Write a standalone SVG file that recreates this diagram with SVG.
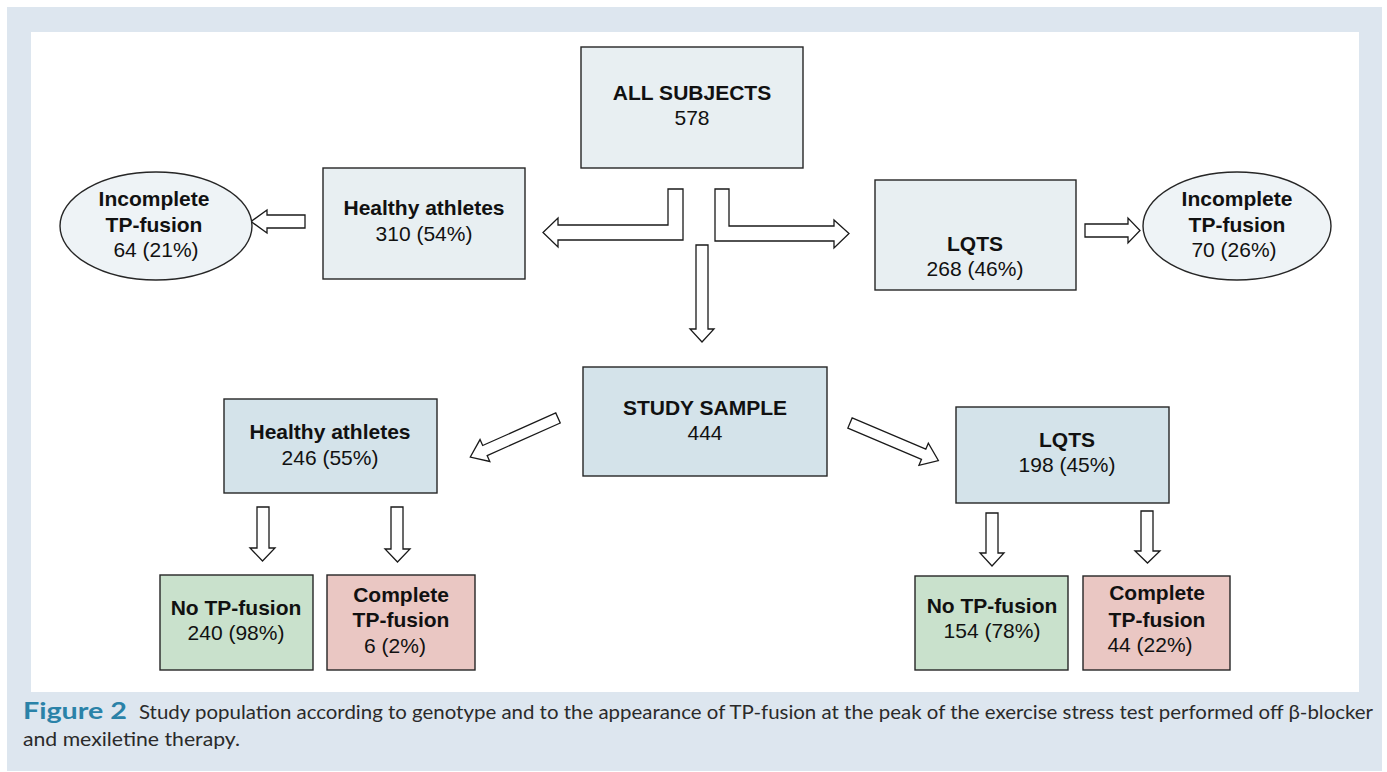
<svg xmlns="http://www.w3.org/2000/svg" width="1387" height="772" viewBox="0 0 1387 772">
<style>
.box{stroke:#262626;stroke-width:1.4}
.lt{fill:#e8eff2}
.md{fill:#d4e3ea}
.gr{fill:#c9e1cc}
.pk{fill:#eac7c3}
.el{fill:#eef3f6;stroke:#262626;stroke-width:1.4}
.arr{fill:#ffffff;stroke:#1a1a1a;stroke-width:1.3;stroke-linejoin:miter}
text{font-family:"Liberation Sans",Arial,sans-serif;font-size:21px;fill:#111;text-anchor:middle}
.b{font-weight:bold}
.cap{font-family:Lato,"Open Sans",sans-serif;font-size:20px;fill:#2a2a2a;text-anchor:start}
.fig{font-family:Lato,"Open Sans",sans-serif;font-weight:bold;fill:#2a82a8;font-size:23px;text-anchor:start}
</style>
<rect x="7" y="7" width="1375" height="764" fill="#dde6ef"/>
<rect x="31" y="32" width="1328" height="660" fill="#ffffff"/>

<g id="connectors">
<polygon class="arr" points="668,189 683,189 683,240 558,240 558,247 543,232.5 558,218 558,225 668,225"/>
<polygon class="arr" points="715,189 729,189 729,226 834,226 834,220 849,233.5 834,248 834,241 715,241"/>
<polygon class="arr" points="696,245 708,245 708,329 714,329 702,342 690,329 696,329"/>
<polygon class="arr" points="305,215 267,215 267,210 251,221.5 267,233 267,228 305,228"/>
<polygon class="arr" points="1085,224 1128,224 1128,218 1140,230.5 1128,243 1128,237 1085,237"/>
<polygon class="arr" transform="translate(558,418) rotate(156)" points="0,-5.5 80,-5.5 80,-12 96,0 80,12 80,5.5 0,5.5"/>
<polygon class="arr" transform="translate(850,423) rotate(23)" points="0,-5.5 80,-5.5 80,-12 96,0 80,12 80,5.5 0,5.5"/>
<polygon class="arr" points="257,507 269,507 269,548 275,548 262.5,561 250,548 257,548"/>
<polygon class="arr" points="391,507 403,507 403,549 410,549 397.5,562 385,549 391,549"/>
<polygon class="arr" points="986,513 998,513 998,553 1004,553 992,566 980,553 986,553"/>
<polygon class="arr" points="1141,511 1153,511 1153,551 1160,551 1147.5,563 1135,551 1141,551"/>
</g>

<g id="all-subjects">
<rect class="box lt" x="581" y="47" width="222" height="121"/>
<text class="b" x="692" y="100">ALL SUBJECTS</text>
<text x="692" y="125">578</text>
</g>
<g id="healthy-top">
<rect class="box lt" x="323" y="168" width="202" height="111"/>
<text class="b" x="424" y="215">Healthy athletes</text>
<text x="424" y="241">310 (54%)</text>
</g>
<g id="lqts-top">
<rect class="box lt" x="875" y="180" width="201" height="110"/>
<text class="b" x="975" y="251">LQTS</text>
<text x="975" y="276">268 (46%)</text>
</g>
<g id="incomplete-left">
<ellipse class="el" cx="156" cy="226" rx="96" ry="54"/>
<text class="b" x="154" y="206">Incomplete</text>
<text class="b" x="154" y="232">TP-fusion</text>
<text x="156" y="257">64 (21%)</text>
</g>
<g id="incomplete-right">
<ellipse class="el" cx="1237" cy="226" rx="94" ry="54"/>
<text class="b" x="1237" y="206">Incomplete</text>
<text class="b" x="1237" y="232">TP-fusion</text>
<text x="1234" y="257">70 (26%)</text>
</g>
<g id="study-sample">
<rect class="box md" x="583" y="367" width="244" height="109"/>
<text class="b" x="705" y="415">STUDY SAMPLE</text>
<text x="705" y="440">444</text>
</g>
<g id="healthy-bottom">
<rect class="box md" x="224" y="399" width="213" height="94"/>
<text class="b" x="330" y="439">Healthy athletes</text>
<text x="330" y="465">246 (55%)</text>
</g>
<g id="lqts-bottom">
<rect class="box md" x="956" y="407" width="213" height="96"/>
<text class="b" x="1067" y="447">LQTS</text>
<text x="1067" y="472">198 (45%)</text>
</g>
<g id="no-tp-left">
<rect class="box gr" x="160" y="575" width="153" height="95"/>
<text class="b" x="236" y="615">No TP-fusion</text>
<text x="236" y="640">240 (98%)</text>
</g>
<g id="complete-left">
<rect class="box pk" x="327" y="575" width="148" height="95"/>
<text class="b" x="401" y="602">Complete</text>
<text class="b" x="401" y="627">TP-fusion</text>
<text x="395" y="653">6 (2%)</text>
</g>
<g id="no-tp-right">
<rect class="box gr" x="915" y="576" width="153" height="94"/>
<text class="b" x="992" y="613">No TP-fusion</text>
<text x="992" y="638">154 (78%)</text>
</g>
<g id="complete-right">
<rect class="box pk" x="1083" y="576" width="147" height="94"/>
<text class="b" x="1157" y="600">Complete</text>
<text class="b" x="1157" y="627">TP-fusion</text>
<text x="1150" y="652">44 (22%)</text>
</g>

<g id="caption">
<text class="fig" x="23" y="719" textLength="104" lengthAdjust="spacingAndGlyphs">Figure 2</text>
<text class="cap" x="139" y="719" textLength="1234" lengthAdjust="spacingAndGlyphs">Study population according to genotype and to the appearance of TP-fusion at the peak of the exercise stress test performed off β-blocker</text>
<text class="cap" x="23" y="746" textLength="217" lengthAdjust="spacingAndGlyphs">and mexiletine therapy.</text>
</g>
</svg>
